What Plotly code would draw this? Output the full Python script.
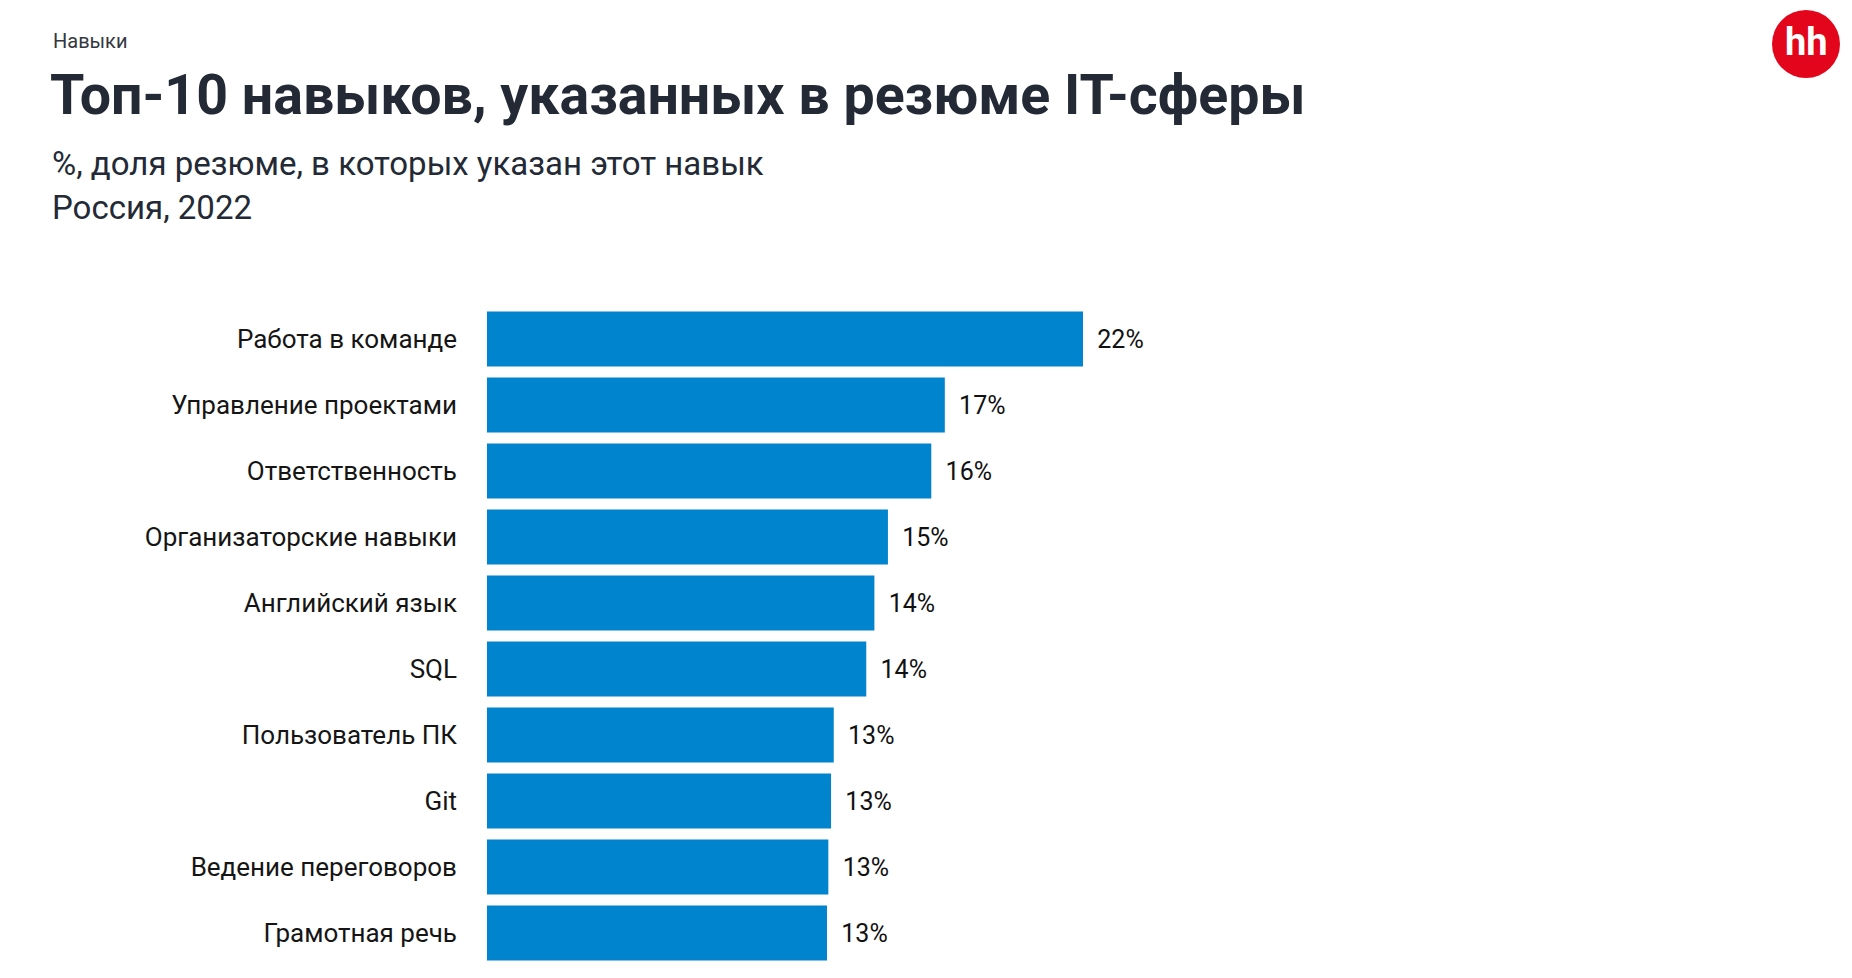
import plotly.graph_objects as go

skills = [
    "Работа в команде",
    "Управление проектами",
    "Ответственность",
    "Организаторские навыки",
    "Английский язык",
    "SQL",
    "Пользователь ПК",
    "Git",
    "Ведение переговоров",
    "Грамотная речь",
]
share = [22.0, 16.9, 16.4, 14.8, 14.3, 14.0, 12.8, 12.7, 12.6, 12.55]

# page body has an 8px margin, so work in page pixels and shift
OFF = 8
W, H = 1852 - 2 * OFF, 978 - 2 * OFF
L, R, T, B = 487 - OFF, 32, 306 - OFF, 4
pw, ph = W - L - R, H - T - B


def px(x):
    return (x - OFF - L) / pw


def py(y):
    return (H - B - (y - OFF)) / ph


fig = go.Figure(go.Bar(
    x=share,
    y=skills,
    orientation="h",
    marker=dict(color="#0084CE", line=dict(width=0)),
    text=[f"{v:.0f}%" for v in share],
    texttemplate="\u00a0\u2009%{text}",
    textposition="outside",
    cliponaxis=False,
    textfont=dict(family="Roboto", size=25, color="#111111"),
    hoverinfo="skip",
))

fig.update_yaxes(
    autorange="reversed",
    showgrid=False,
    zeroline=False,
    showline=False,
    ticks="",
    ticklabelstandoff=29,
    tickfont=dict(family="Roboto", size=26, color="#151515"),
)
fig.update_xaxes(range=[0, pw / 27.09], visible=False)

ann = [
    dict(text="Навыки", x=px(51), y=py(41), size=20, color="#333740"),
    dict(text="<b>Топ-10 навыков, указанных в резюме IT-сферы</b>", x=px(48), y=py(95),
         size=55.5, color="#232A35"),
    dict(text="%, доля резюме, в которых указан этот навык", x=px(50), y=py(163),
         size=33, color="#232A35"),
    dict(text="Россия, 2022", x=px(50), y=py(207), size=33, color="#232A35"),
]
annotations = [
    dict(text=a["text"], x=a["x"], y=a["y"], xref="paper", yref="paper",
         xanchor="left", yanchor="middle", showarrow=False,
         font=dict(family="Roboto", size=a["size"], color=a["color"]))
    for a in ann
]
annotations.append(dict(text="<b>hh</b>", x=px(1806), y=py(42), xref="paper", yref="paper",
                        xanchor="center", yanchor="middle", showarrow=False,
                        font=dict(family="Roboto", size=38, color="white")))

fig.update_layout(
    width=W,
    height=H,
    margin=dict(l=L, r=R, t=T, b=B),
    paper_bgcolor="white",
    plot_bgcolor="white",
    bargap=0.167,
    showlegend=False,
    annotations=annotations,
    shapes=[dict(type="circle", xref="paper", yref="paper",
                 xsizemode="pixel", ysizemode="pixel",
                 xanchor=px(1806), yanchor=py(44),
                 x0=-34, x1=34, y0=-34, y1=34,
                 fillcolor="#E3051B", line=dict(width=0), layer="above")],
)

fig.write_html("out.html")
